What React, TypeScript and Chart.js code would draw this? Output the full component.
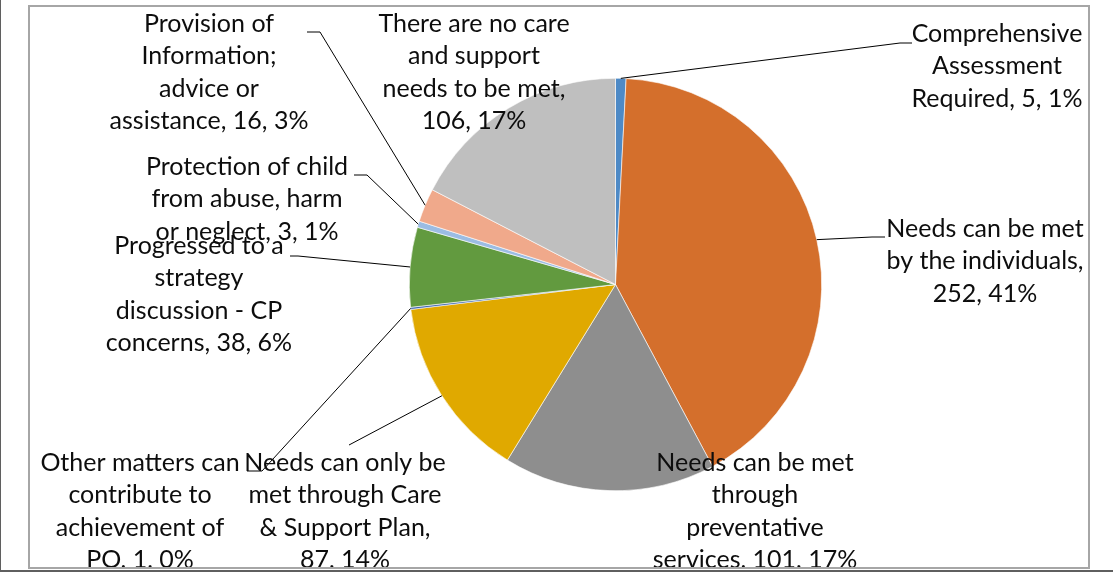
import React, { useEffect, useRef } from "react";
import { Chart, registerables } from "chart.js";

Chart.register(...registerables);

const categories = [
  "Comprehensive Assessment Required",
  "Needs can be met by the individuals",
  "Needs can be met through preventative services",
  "Needs can only be met through Care & Support Plan",
  "Other matters can contribute to achievement of PO",
  "Progressed to a strategy discussion - CP concerns",
  "Protection of child from abuse, harm or neglect",
  "Provision of Information; advice or assistance",
  "There are no care and support needs to be met",
];
const values = [5, 252, 101, 87, 1, 38, 3, 16, 106];
const percentLabels = ["1%", "41%", "17%", "14%", "0%", "6%", "1%", "3%", "17%"];
const sliceColors = [
  "#4E8AC6",
  "#D46F2C",
  "#8E8E8E",
  "#E0A900",
  "#3D65AE",
  "#629A3F",
  "#9BBCE3",
  "#F0A98B",
  "#BFBFBF",
];
const wordsPerLine = [
  [1, 1, 3],
  [4, 3, 2],
  [4, 1, 1, 3],
  [4, 3, 3, 2],
  [3, 2, 2, 3],
  [3, 1, 3, 3],
  [3, 3, 4],
  [2, 1, 2, 3],
  [4, 2, 4, 2],
];
const labelLayout: { x: number; y: number; leader: number[][] | null }[] = [
  { x: 997, y: 34, leader: [[900, 43], [912, 43]] },
  { x: 985, y: 229, leader: [[872, 237], [885, 237]] },
  { x: 755, y: 463, leader: null },
  { x: 345, y: 463, leader: [[349, 445]] },
  { x: 140, y: 463, leader: [[262, 471], [247, 471]] },
  { x: 199, y: 246, leader: [[298, 256], [290, 256]] },
  { x: 247, y: 167, leader: [[367, 175], [354, 175]] },
  { x: 209, y: 24, leader: [[320, 32], [307, 32]] },
  { x: 474, y: 24, leader: null },
];
const LINE_H = 32.3;
const FONT = "25px Lato";

function buildLines(i: number): string[] {
  const words = `${categories[i]}, ${values[i]}, ${percentLabels[i]}`.split(" ");
  const out: string[] = [];
  let k = 0;
  for (const n of wordsPerLine[i]) {
    out.push(words.slice(k, k + n).join(" "));
    k += n;
  }
  return out;
}

const labelPlugin = {
  id: "excelLabels",
  beforeDraw(chart: any) {
    const ctx = chart.ctx;
    ctx.save();
    ctx.fillStyle = "#ffffff";
    ctx.fillRect(0, 0, chart.width, chart.height);
    ctx.restore();
  },
  afterDatasetsDraw(chart: any) {
    const ctx = chart.ctx;
    const meta = chart.getDatasetMeta(0);
    ctx.save();
    ctx.beginPath();
    ctx.rect(29, 6, 1059, 561);
    ctx.clip();
    meta.data.forEach((arc: any, i: number) => {
      const p = arc.getProps(["x", "y", "startAngle", "endAngle", "outerRadius"], true);
      const mid = (p.startAngle + p.endAngle) / 2;
      const sx = p.x + Math.cos(mid) * p.outerRadius;
      const sy = p.y + Math.sin(mid) * p.outerRadius;
      const lay = labelLayout[i];
      if (lay.leader) {
        ctx.beginPath();
        ctx.moveTo(sx, sy);
        lay.leader.forEach((pt) => ctx.lineTo(pt[0], pt[1]));
        ctx.strokeStyle = "#000000";
        ctx.lineWidth = 1;
        ctx.stroke();
      }
    });
    ctx.font = FONT;
    ctx.fillStyle = "#0d0d0d";
    ctx.textAlign = "center";
    ctx.textBaseline = "middle";
    meta.data.forEach((_arc: any, i: number) => {
      const lay = labelLayout[i];
      buildLines(i).forEach((line, j) => {
        ctx.fillText(line, lay.x, lay.y + j * LINE_H);
      });
    });
    ctx.restore();
  },
  afterDraw(chart: any) {
    const ctx = chart.ctx;
    ctx.save();
    ctx.strokeStyle = "#a6a6a6";
    ctx.lineWidth = 2;
    ctx.strokeRect(29, 6, 1060, 562);
    ctx.fillStyle = "#5f5f5f";
    ctx.fillRect(0, 0, 1, chart.height);
    ctx.fillRect(0, 570, chart.width, 2);
    ctx.restore();
  },
};

export default function App() {
  const ref = useRef<HTMLCanvasElement | null>(null);
  useEffect(() => {
    if (!ref.current) return;
    const chart = new Chart(ref.current, {
      type: "pie",
      data: {
        labels: categories,
        datasets: [
          {
            data: values,
            backgroundColor: sliceColors,
            borderColor: "#ffffff",
            borderWidth: 0.6,
          },
        ],
      },
      options: {
        animation: false,
        responsive: false,
        devicePixelRatio: 1,
        layout: { padding: { top: 78, bottom: 81, left: 409, right: 291 } },
        plugins: { legend: { display: false }, tooltip: { enabled: false } },
      },
      plugins: [labelPlugin],
    });
    return () => chart.destroy();
  }, []);
  return (
    <div style={{ position: "fixed", left: 0, top: 0, width: 1113, height: 572, background: "#fff" }}>
      <canvas ref={ref} width={1113} height={572} style={{ display: "block" }} />
    </div>
  );
}
